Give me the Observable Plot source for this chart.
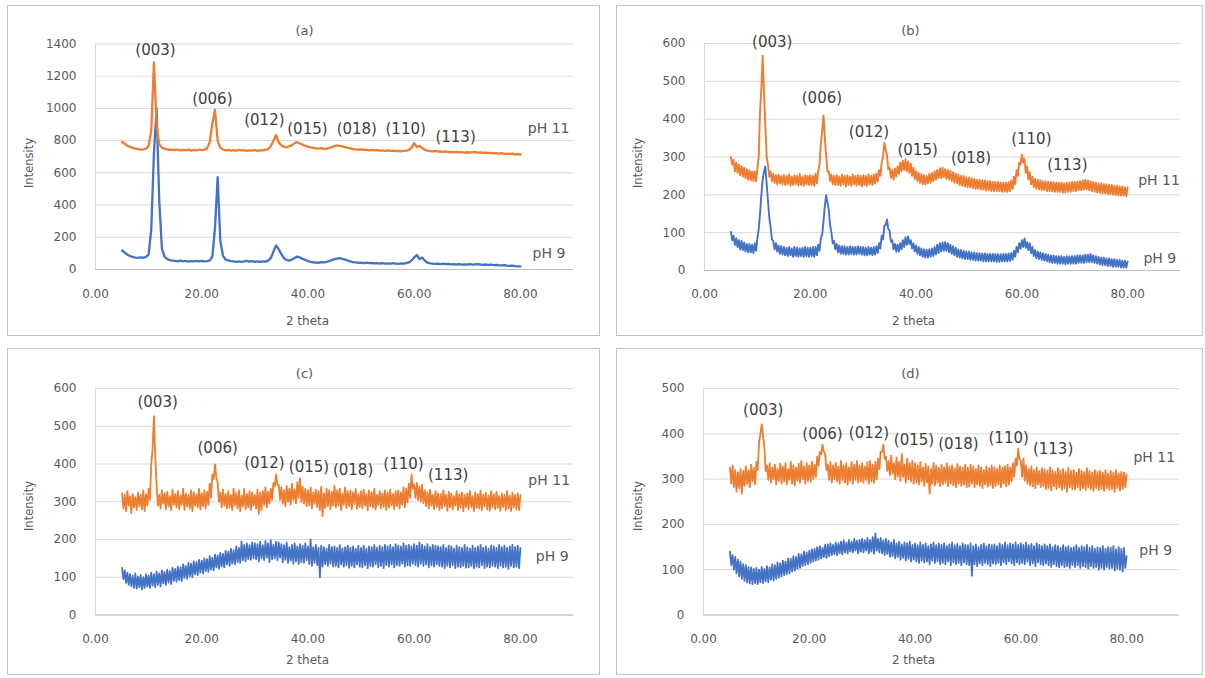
<!DOCTYPE html>
<html><head><meta charset="utf-8">
<script src="https://cdn.jsdelivr.net/npm/d3@7"></script>
<script src="https://cdn.jsdelivr.net/npm/@observablehq/plot@0.6"></script>
<style>
body{margin:0;background:#fff;}
#wrap{position:relative;width:1205px;height:678px;overflow:hidden;font-family:"DejaVu Sans",sans-serif;background:#fff;}
.panel{position:absolute;}
.panel svg{position:absolute;left:0;top:0;}
.frame{position:absolute;left:0;top:0;right:0;bottom:0;border:1px solid #c4c4c4;pointer-events:none;}
.lbl{position:absolute;color:#595959;white-space:nowrap;transform:translate(-50%,-50%);}
.ttl{font-size:13px;}
.xl{font-size:12px;}
.yl{font-size:11.5px;transform:translate(-50%,-50%) rotate(-90deg);}
</style></head><body><div id="wrap"></div>
<script>
// 2-theta sampling grids: readings at 5.00..80.00 (step 0.5) and in-between readings at 5.25..79.75
const thetaStart = 5, thetaStep = 0.5, thetaCount = 151, midCount = 150;
const twoTheta = d3.range(thetaCount).map(i => thetaStart + i * thetaStep);
const twoThetaMid = d3.range(midCount).map(i => thetaStart + thetaStep / 2 + i * thetaStep);
const xTicks = [0, 20, 40, 60, 80];
const hkl = ["(003)","(006)","(012)","(015)","(018)","(110)","(113)"];
const phNames = ["pH 11", "pH 9"];

// Panel (a)
const a11 = [
792,781,768,762,755,750,748,744,746,750,
768,860,1285,900,778,757,749,746,742,744,
741,745,739,743,740,744,738,742,740,745,
741,744,752,790,905,990,800,755,745,740,
742,738,741,737,743,739,741,736,740,738,
742,737,740,739,744,748,765,800,835,790,
770,762,758,765,772,785,790,782,775,768,
762,758,755,752,750,754,751,749,755,760,
766,770,768,764,760,755,752,748,746,744,
745,742,744,740,742,739,741,738,740,737,
739,736,738,735,737,734,736,738,742,755,
785,760,768,755,742,738,735,733,736,732,
734,730,733,729,731,728,730,727,729,726,
728,726,730,728,725,727,724,726,722,724,
721,723,720,722,718,720,717,719,715,717,
714];
const a9 = [
118,105,92,84,78,74,72,75,73,78,
92,250,720,1000,430,130,80,65,58,55,
54,51,55,50,53,49,52,50,54,51,
53,50,52,55,80,260,573,180,85,62,
56,52,50,48,51,47,50,53,49,52,
48,50,47,51,49,55,70,110,150,125,
95,70,58,55,62,72,80,75,66,60,
52,48,45,43,42,45,44,48,52,58,
64,68,70,66,62,55,50,46,44,42,
43,40,42,39,41,38,40,37,39,36,
38,36,39,37,35,38,36,40,44,55,
75,90,65,75,55,42,38,36,35,37,
34,36,33,35,32,34,31,33,30,32,
31,33,30,32,34,31,29,31,28,30,
27,29,26,25,27,24,22,24,21,20,
19];
const aHklX = [11.3, 22.0, 31.8, 39.9, 49.2, 58.4, 67.8];
const aHklY = [1360, 1056, 925, 870, 870, 870, 820];
const aPhX = [81.4, 82.3], aPhY = [876, 99];

// Panel (b): upper readings (5.00..80.00) and lower readings (5.25..79.75)
const b11Hi = [
300,292,285,280,276,272,268,265,262,262,
270,420,568,385,280,262,255,252,254,250,
252,250,254,248,252,250,255,248,252,250,
252,250,256,262,335,410,305,262,254,250,
252,248,254,250,252,248,254,250,252,250,
252,250,254,250,254,256,265,285,337,305,
272,266,270,275,285,290,294,288,282,272,
262,258,255,252,250,256,258,262,266,270,
272,268,266,264,260,256,254,250,250,246,
246,244,242,240,240,238,238,236,236,234,
235,234,233,232,232,234,238,248,265,285,
306,295,275,260,248,242,240,238,236,236,
235,234,234,232,232,232,230,232,232,234,
234,235,236,238,240,238,236,234,232,230,
230,228,228,226,226,224,224,222,222,220,
220];
const b11Lo = [
280,262,258,252,248,244,240,238,236,236,
300,480,470,300,248,236,232,228,230,228,
226,228,224,226,228,224,226,224,228,226,
226,224,230,280,370,350,262,236,228,226,
226,224,228,222,226,224,228,224,226,222,
226,224,228,226,230,235,250,300,318,268,
245,240,248,255,262,265,262,258,250,242,
236,232,228,228,230,232,236,240,244,244,
246,242,240,236,232,230,226,224,222,220,
220,218,216,216,214,214,212,212,210,210,
210,209,208,208,208,210,215,228,250,280,
285,258,240,228,220,216,214,212,212,210,
210,209,208,208,208,206,206,208,208,210,
210,212,212,214,214,212,210,208,206,205,
204,204,202,202,200,200,198,198,198,196];
const b9Hi = [
102,92,85,80,78,74,70,70,68,72,
85,150,240,275,185,115,78,72,66,64,
62,60,62,58,62,60,58,60,62,60,
60,62,62,68,85,130,199,160,100,78,
70,66,64,64,62,64,62,62,64,62,
62,60,62,60,62,64,72,92,118,135,
105,80,70,68,72,80,88,90,80,72,
66,62,58,56,55,56,58,62,68,72,
74,75,72,68,64,60,56,54,52,50,
50,48,48,46,46,45,45,44,44,44,
44,43,43,44,44,45,46,52,62,72,
80,85,75,72,62,54,50,48,46,44,
42,40,40,38,38,38,36,38,38,38,
38,40,40,40,42,42,44,40,38,36,
34,34,32,32,30,30,28,28,26,26,
24];
const b9Lo = [
80,68,62,56,54,50,48,48,46,52,
110,200,262,230,140,82,56,50,44,42,
40,38,40,36,38,36,38,36,38,36,
38,36,40,52,95,170,180,120,72,56,
48,44,44,42,42,44,42,42,44,42,
40,40,42,40,42,46,58,82,120,110,
76,56,50,50,56,62,68,70,58,50,
44,40,36,34,34,36,38,42,46,50,
52,52,48,44,40,36,34,32,30,30,
28,28,26,26,26,24,24,24,24,24,
23,23,24,24,24,25,28,36,48,58,
62,60,54,46,38,32,30,28,26,24,
22,20,20,18,18,18,16,18,18,18,
18,20,20,20,22,22,22,20,18,16,
14,14,12,12,10,10,10,8,8,8];
const bHklX = [12.8, 22.2, 31.1, 40.3, 50.4, 61.8, 68.6];
const bHklY = [603, 455, 365, 317, 296, 346, 278];
const bPhX = [82.0, 83.0], bPhY = [238, 32];

// Panel (c)
const c11Hi = [
322,318,328,315,320,312,325,318,330,320,
335,400,527,345,318,330,322,326,315,332,
320,328,316,335,322,318,330,325,320,334,
322,330,326,348,372,399,350,325,332,320,
328,318,335,322,330,316,334,320,328,325,
318,332,324,328,338,326,335,350,372,345,
338,330,342,335,348,332,352,362,340,335,
330,338,325,332,328,340,322,335,330,326,
342,330,335,322,338,328,330,325,334,320,
328,332,320,330,325,335,318,328,322,330,
325,332,320,328,330,325,338,335,348,372,
345,350,340,345,330,325,332,318,328,322,
320,330,318,326,322,315,328,320,325,318,
322,328,315,325,320,330,318,324,316,328,
320,326,315,322,318,328,316,324,318,322,
318];
const c11Lo = [
282,275,290,270,285,278,288,280,275,290,
305,440,420,290,282,295,280,288,278,292,
285,280,292,278,288,282,275,290,285,280,
288,282,292,310,360,365,300,285,290,282,
285,278,290,282,275,288,280,285,278,290,
282,268,278,292,285,295,305,340,345,305,
295,288,300,292,305,296,310,300,295,288,
290,282,295,285,278,262,284,288,280,290,
285,290,278,292,283,288,280,294,282,286,
282,290,278,288,284,280,292,282,286,278,
284,290,280,288,282,292,285,298,310,335,
310,305,300,296,288,282,290,280,286,278,
282,288,276,285,280,290,278,284,275,286,
280,286,275,284,282,278,288,280,276,285,
280,284,276,286,278,282,275,285,280,278];
const c9Hi = [
125,118,112,108,104,110,102,106,100,108,
105,112,108,115,110,118,114,120,116,125,
122,128,126,134,130,138,136,142,140,146,
144,150,148,156,152,160,158,165,162,170,
168,175,172,182,178,195,186,190,185,192,
190,188,194,185,196,190,198,186,194,192,
188,185,192,180,186,190,182,188,184,190,
182,200,180,186,178,184,180,176,186,180,
182,178,185,176,180,184,178,182,176,183,
178,184,176,182,180,186,178,184,180,186,
182,186,180,188,184,182,190,184,186,182,
188,184,192,186,182,188,180,186,184,182,
180,186,178,184,182,176,184,180,178,186,
180,176,184,178,182,186,178,182,176,184,
182,178,186,180,184,178,182,186,180,184,
178];
const c9Lo = [
95,85,80,76,72,70,74,68,72,75,
72,78,74,80,76,84,80,86,82,90,
88,92,90,98,96,102,100,108,106,112,
110,116,114,120,118,126,122,128,126,134,
130,136,134,140,138,145,142,148,146,150,
148,142,150,145,152,140,148,150,145,152,
140,146,138,144,136,142,135,140,138,145,
135,130,138,132,100,128,135,130,136,128,
130,126,134,128,132,125,130,126,134,128,
126,132,124,130,128,134,126,130,124,132,
128,134,126,132,130,136,128,132,130,136,
132,128,136,130,134,126,132,128,134,130,
128,124,130,126,132,124,128,126,130,125,
126,130,124,128,126,132,124,128,126,130,
128,124,130,126,128,122,130,126,128,124];
const cHklX = [11.7, 23.0, 31.8, 40.2, 48.5, 58.0, 66.4];
const cHklY = [563, 441, 403, 392, 383, 399, 370];
const cPhX = [81.5, 82.9], cPhY = [356, 154];

// Panel (d)
const d11Hi = [
325,330,320,315,322,318,328,320,332,325,
338,380,421,372,330,335,326,332,322,334,
328,335,322,338,330,326,334,340,328,336,
330,338,332,350,360,376,355,332,338,330,
336,328,340,330,335,326,338,332,340,330,
335,328,338,340,332,338,345,360,376,350,
340,352,335,348,338,355,332,345,336,340,
335,330,338,326,334,328,322,336,330,325,
332,326,335,328,330,324,333,328,326,332,
325,332,328,322,330,326,320,328,324,330,
326,322,330,325,328,332,326,335,345,367,
340,345,330,322,328,320,326,318,324,322,
318,326,320,316,324,318,322,316,325,318,
320,315,322,318,316,324,318,314,320,316,
318,314,320,312,318,315,320,312,316,314,
310];
const d11Lo = [
290,282,272,280,268,285,290,282,295,288,
320,400,395,318,298,292,300,288,296,290,
295,288,298,290,286,296,292,300,290,296,
294,300,305,330,355,360,320,298,292,300,
295,290,298,292,288,296,290,298,292,295,
292,298,290,295,292,300,322,360,345,318,
308,312,300,306,296,305,292,300,295,290,
292,288,295,285,292,268,290,286,292,284,
288,292,284,290,286,282,290,285,288,282,
284,290,282,288,285,280,288,283,286,280,
285,288,282,290,284,288,295,305,330,345,
305,296,290,286,284,280,288,282,285,278,
280,275,284,278,282,276,280,272,282,278,
278,282,275,280,276,282,278,274,280,276,
278,274,280,276,278,272,280,275,278,282];
const d9Hi = [
140,132,128,122,118,112,110,106,105,102,
104,100,106,102,108,105,112,110,116,114,
120,118,125,124,130,128,135,134,140,138,
142,145,146,150,152,148,155,156,158,155,
160,158,162,165,160,166,162,168,164,166,
168,165,170,166,172,180,168,170,165,168,
164,160,166,158,162,156,160,158,162,155,
158,154,160,155,158,152,156,160,154,158,
155,158,152,156,160,154,157,152,158,155,
154,158,152,156,150,155,158,152,156,154,
156,152,158,155,160,154,158,156,160,155,
158,155,160,154,157,152,158,155,152,156,
152,156,150,154,152,148,154,150,152,148,
150,154,148,152,150,155,148,152,146,150,
148,152,146,150,148,152,145,150,146,148,
130];
const d9Lo = [
110,100,92,85,80,75,72,70,68,70,
68,72,70,74,72,78,76,80,82,85,
88,90,92,96,98,102,104,108,110,112,
115,118,120,122,125,128,126,130,132,134,
132,136,134,138,136,140,138,142,136,140,
138,142,136,140,135,142,138,136,132,135,
128,130,125,128,122,126,120,124,118,122,
118,115,120,116,118,112,120,115,118,112,
115,112,118,110,116,112,115,110,116,112,
110,87,112,108,114,110,115,112,108,114,
112,115,110,116,112,118,114,110,116,112,
115,112,118,110,114,108,116,112,110,114,
110,106,112,108,105,110,106,108,104,110,
106,110,104,108,106,102,108,104,106,100,
104,100,106,102,104,98,102,100,96,104];
const dHklX = [11.3, 22.5, 31.3, 39.8, 48.2, 57.7, 66.1];
const dHklY = [452, 400, 402, 387, 378, 391, 367];
const dPhX = [81.3, 82.4], dPhY = [347, 143];

const panels = [
  {id:"(a)", left:7, top:5, w:593, h:331, ml:88, mr:27, mt:38.5, mb:67, ymax:1400, ystep:200,
   s11:a11, s9:a9, m11:null, m9:null, hx:aHklX, hy:aHklY, px:aPhX, py:aPhY, sw:2.3, xpad:20},
  {id:"(b)", left:616, top:5, w:587, h:331, ml:88, mr:23, mt:38, mb:66, ymax:600, ystep:100,
   s11:b11Hi, s9:b9Hi, m11:b11Lo, m9:b9Lo, hx:bHklX, hy:bHklY, px:bPhX, py:bPhY, sw:1.9, xpad:19},
  {id:"(c)", left:7, top:348, w:593, h:327, ml:88, mr:27, mt:40, mb:60.5, ymax:600, ystep:100,
   s11:c11Hi, s9:c9Hi, m11:c11Lo, m9:c9Lo, hx:cHklX, hy:cHklY, px:cPhX, py:cPhY, sw:1.8, xpad:19},
  {id:"(d)", left:616, top:348, w:587, h:327, ml:87, mr:24, mt:40, mb:60.5, ymax:500, ystep:100,
   s11:d11Hi, s9:d9Hi, m11:d11Lo, m9:d9Lo, hx:dHklX, hy:dHklY, px:dPhX, py:dPhY, sw:1.8, xpad:19}
];

function toRows(main, mid) {
  const rows = main.map((v, i) => ({x: twoTheta[i], y: v}));
  if (mid) mid.forEach((v, i) => rows.push({x: twoThetaMid[i], y: v}));
  return rows.sort((p, q) => p.x - q.x);
}

const wrap = document.getElementById("wrap");
for (const p of panels) {
  const yTicks = d3.range(0, p.ymax + 1, p.ystep);
  const labels = hkl.map((t, i) => ({t, x: p.hx[i], y: p.hy[i]}));
  const ph = phNames.map((t, i) => ({t, x: p.px[i], y: p.py[i]}));
  const chart = Plot.plot({
    width: p.w, height: p.h,
    marginLeft: p.ml, marginRight: p.mr, marginTop: p.mt, marginBottom: p.mb,
    style: {fontFamily: "DejaVu Sans", fontSize: "12px", color: "#595959", background: "transparent", overflow: "visible"},
    x: {domain: [0, 90]},
    y: {domain: [0, p.ymax]},
    marks: [
      Plot.gridY(yTicks, {stroke: "#d9d9d9", strokeOpacity: 1}),
      Plot.ruleX([0], {stroke: "#d9d9d9"}),
      Plot.ruleY([0], {stroke: "#bfbfbf"}),
      Plot.axisX(xTicks, {tickSize: 0, tickPadding: p.xpad, label: null, tickFormat: d => d.toFixed(2)}),
      Plot.axisY(yTicks, {tickSize: 0, tickPadding: 19, label: null, tickFormat: d => String(d)}),
      Plot.line(toRows(p.s9, p.m9), {x: "x", y: "y", stroke: "#4472c4", strokeWidth: p.sw}),
      Plot.line(toRows(p.s11, p.m11), {x: "x", y: "y", stroke: "#ed7d31", strokeWidth: p.sw}),
      Plot.text(labels, {x: "x", y: "y", text: "t", fontSize: 15, fill: "#404040"}),
      Plot.text(ph, {x: "x", y: "y", text: "t", fontSize: 14, fill: "#595959", textAnchor: "start"})
    ]
  });
  const div = document.createElement("div");
  div.className = "panel";
  div.style.left = p.left + "px"; div.style.top = p.top + "px";
  div.style.width = p.w + "px"; div.style.height = p.h + "px";
  div.appendChild(chart);
  const mk = (cls, txt, x, y) => {
    const e = document.createElement("div");
    e.className = "lbl " + cls; e.textContent = txt;
    e.style.left = x + "px"; e.style.top = y + "px";
    div.appendChild(e);
  };
  mk("ttl", p.id, p.w / 2 + 1, 25);
  mk("xl", "2 theta", p.w / 2 + 4, p.h - 15);
  mk("yl", "Intensity", 21.5, 158);
  const fr = document.createElement("div");
  fr.className = "frame";
  div.appendChild(fr);
  wrap.appendChild(div);
}
</script></body></html>
